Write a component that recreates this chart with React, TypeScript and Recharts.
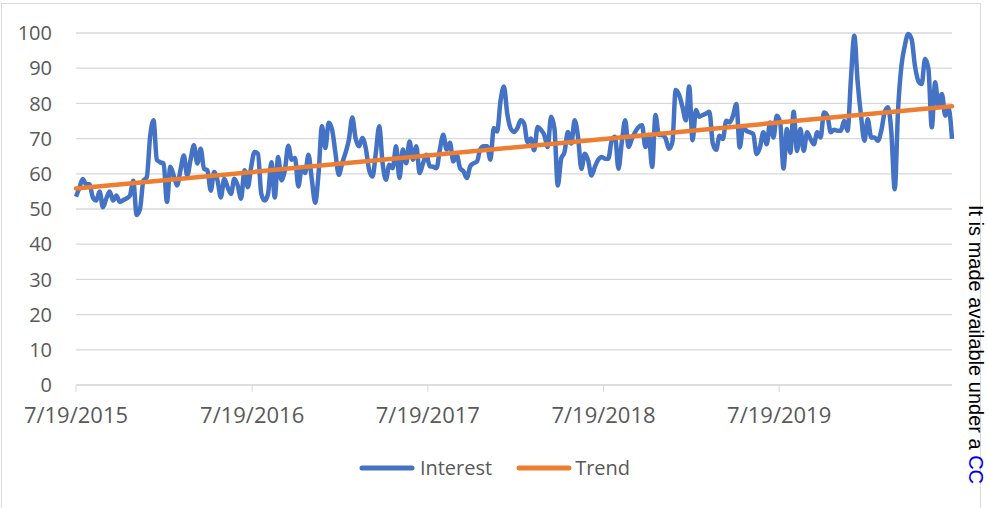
import { LineChart, Line, XAxis, YAxis, CartesianGrid, Legend } from "recharts";

// weekly search interest, starting 7/19/2015
const interest = [
  53.5, 56, 58.5, 57, 57, 53.3, 52.4, 55, 50.5, 53,
  55, 52.4, 53.8, 52, 52.5, 53, 53.8, 58, 48.3, 50,
  58, 59, 70.5, 75.2, 64, 63.3, 62.9, 52, 62, 59.5,
  56.7, 61, 65.2, 59.5, 64, 68.1, 62.9, 67.1, 61.4, 61,
  55.2, 60.5, 58.1, 53.3, 58.6, 56.2, 54.3, 58.6, 56.7, 52.9,
  61, 56.2, 62, 66.2, 65.7, 54.3, 52.4, 54.3, 63.3, 53.3,
  64.8, 58.1, 61, 68, 64, 64.5, 56.4, 61.6, 60.2, 65.4,
  58.3, 51.8, 60.2, 73.5, 67.3, 74.5, 72.6, 65.9, 59.7, 63,
  66, 69.7, 76, 70, 67.8, 70.2, 67.3, 61.1, 59.2, 66,
  73.5, 63, 58.3, 62.6, 61.6, 67.8, 58.8, 66.9, 63, 69.2,
  64, 67.8, 60.2, 63, 65.4, 62.1, 62, 61.6, 66.9, 71.1,
  66.9, 68.8, 63.5, 65.4, 61.6, 60.7, 58.8, 62.1, 63, 63.5,
  67, 67.8, 67.8, 64, 73, 72, 80.7, 84.8, 77.1, 72.9,
  71.9, 73, 75.2, 74.3, 69, 70, 66.7, 73.3, 72.5, 71,
  67.6, 76.2, 72.9, 56.7, 64.3, 66.2, 71.9, 68.6, 75.2, 70.5,
  61.4, 65.7, 63.8, 59.5, 62, 64, 64.8, 64.3, 64.3, 69.5,
  70.5, 61.4, 69, 75.2, 67.6, 70, 71.9, 73.3, 73.8, 67.6,
  71, 61.9, 76.7, 71, 71, 70, 67.1, 69, 83.8, 82.4,
  79, 75.2, 84.8, 69.5, 78.1, 76.2, 76.7, 77.1, 77.6, 68.6,
  66.8, 70.8, 69.9, 75.1, 74.6, 76.5, 79.8, 67.5, 73.2, 72.2,
  71.8, 71.3, 65.6, 67.5, 71.8, 68.4, 74.6, 70.3, 76.5, 74.6,
  61.5, 72.7, 66, 77.6, 66.5, 72.7, 66.5, 71.8, 69.9, 68.4,
  71.8, 70.3, 77.4, 76.5, 71.8, 72.5, 72.2, 72.2, 75.1, 72.2,
  86.9, 99.2, 86, 76.5, 69.4, 75.5, 70.3, 70.3, 69.4, 72.2,
  77.4, 78.9, 71.8, 55.6, 78.4, 90.7, 96.4, 99.7, 98.3, 90.7,
  86.4, 85.5, 92.6, 89.8, 73.2, 86, 79.3, 82.7, 76.5, 78.4,
  69.9,
];

// linear trend, first and last value
const trendEnds = [55.8, 79.2];

// days since 7/19/2015
const tickDays = [0, 366, 731, 1096, 1461];
const tickLabels = ["7/19/2015", "7/19/2016", "7/19/2017", "7/19/2018", "7/19/2019"];
const yTicks = [0, 10, 20, 30, 40, 50, 60, 70, 80, 90, 100];

const legendItems = [
  { name: "Interest", color: "#4472C4", gap: 5 },
  { name: "Trend", color: "#ED7D31", gap: 3 },
];

const data = interest.map((v, i) => ({
  day: i * 7,
  interest: v,
  trend: i === 0 ? trendEnds[0] : i === interest.length - 1 ? trendEnds[1] : null,
}));

const font = "'Open Sans', sans-serif";
const textColor = "#595959";

function ChartLegend() {
  return (
    <div style={{ display: "flex", justifyContent: "center", alignItems: "center", gap: 24, fontFamily: font, fontSize: 20, color: textColor }}>
      {legendItems.map((it) => (
        <div key={it.name} style={{ display: "flex", alignItems: "center" }}>
          <svg width={56} height={10} style={{ marginRight: it.gap }}>
            <line x1={3} y1={5} x2={53} y2={5} stroke={it.color} strokeWidth={5} strokeLinecap="round" />
          </svg>
          <span>{it.name}</span>
        </div>
      ))}
    </div>
  );
}

export default function App() {
  return (
    <div style={{ position: "absolute", left: 0, top: 0, width: 989, height: 508, overflow: "hidden", background: "#fff" }}>
      <div style={{ position: "absolute", left: 1, top: 3, width: 980, height: 520, border: "1px solid #d9d9d9", boxSizing: "border-box" }} />
      <LineChart width={989} height={508} data={data} margin={{ top: 33, right: 37, left: 0, bottom: 83 }}>
        <CartesianGrid vertical={false} stroke="#d9d9d9" strokeWidth={1.3} />
        <XAxis
          type="number"
          dataKey="day"
          domain={[0, 1820]}
          ticks={tickDays}
          tickFormatter={(v: number) => tickLabels[tickDays.indexOf(v)] ?? ""}
          stroke="#d9d9d9"
          tickSize={7}
          tickMargin={15}
          height={40}
          tick={{ fill: textColor, fontSize: 22, fontFamily: font }}
          interval={0}
        />
        <YAxis
          domain={[0, 100]}
          ticks={yTicks}
          width={76}
          axisLine={false}
          tickLine={false}
          tickSize={0}
          tickMargin={24}
          tick={{ fill: textColor, fontSize: 20, fontFamily: font }}
          interval={0}
        />
        <Legend verticalAlign="middle" layout="horizontal" wrapperStyle={{ top: 454, left: 0, width: 989 }} content={() => <ChartLegend />} />
        <Line type="monotone" dataKey="interest" stroke="#4472C4" strokeWidth={4.5} dot={false} isAnimationActive={false} strokeLinejoin="round" />
        <Line type="linear" dataKey="trend" stroke="#ED7D31" strokeWidth={4.5} dot={false} connectNulls isAnimationActive={false} strokeLinecap="round" />
      </LineChart>
      <div
        style={{
          position: "absolute",
          left: 987,
          top: 205,
          transform: "rotate(90deg)",
          transformOrigin: "left top",
          whiteSpace: "nowrap",
          fontFamily: "'Liberation Sans', Arial, sans-serif",
          fontSize: 20,
          lineHeight: "23px",
          color: "#000",
        }}
      >
        It is made available under a <span style={{ color: "#0000ee" }}>CC</span>
      </div>
    </div>
  );
}
